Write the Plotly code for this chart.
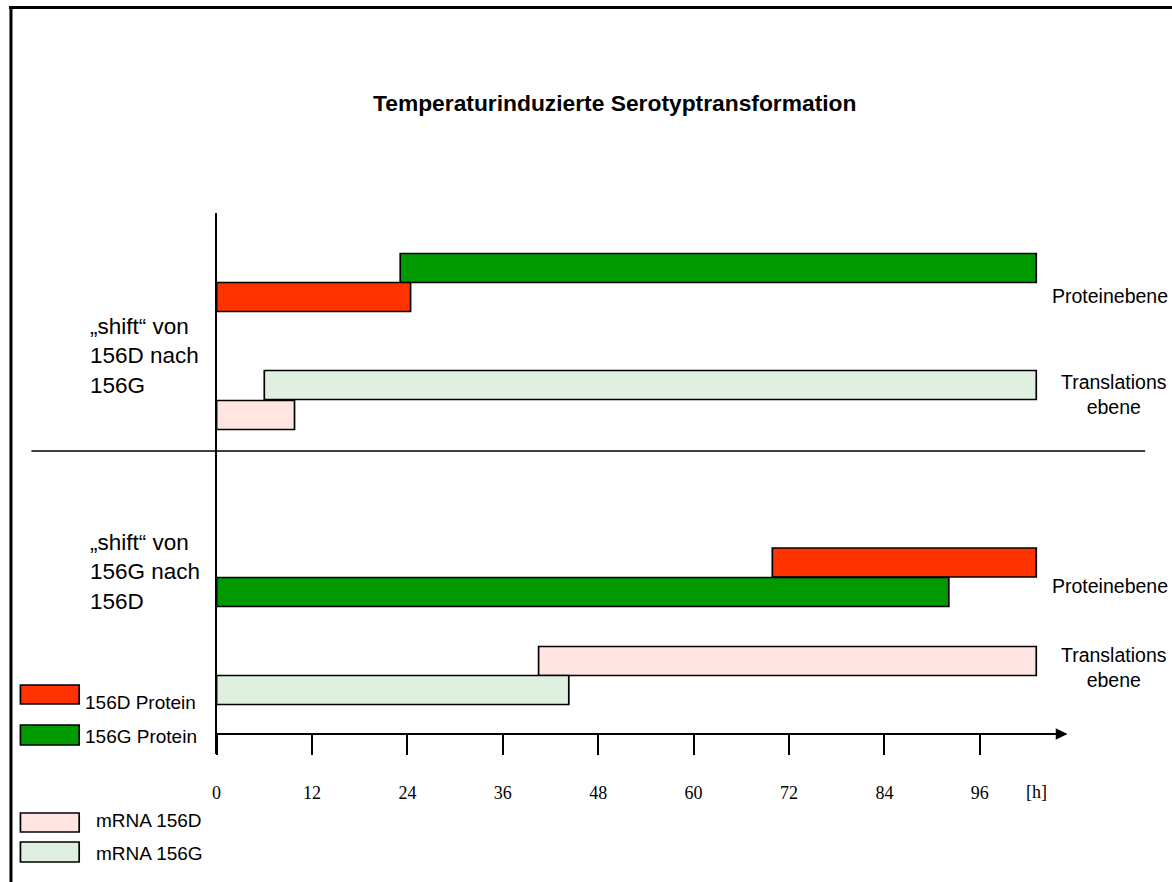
import plotly.graph_objects as go

# ---------------- data ----------------
series_names = ["156D Protein", "156G Protein", "mRNA 156D", "mRNA 156G"]
series_colors = ["#FF3300", "#009900", "#FFE4E1", "#E0F0E0"]

# bars (hours) – upper panel: shift 156D -> 156G, lower panel: shift 156G -> 156D
bar_series = ["156G Protein", "156D Protein", "mRNA 156G", "mRNA 156D",
              "156D Protein", "156G Protein", "mRNA 156D", "mRNA 156G"]
bar_start = [23.1, 0.0, 6.0, 0.0, 69.9, 0.0, 40.5, 0.0]
bar_end = [103.1, 24.4, 103.1, 9.8, 103.1, 92.1, 103.1, 44.3]

tick_values = [0, 12, 24, 36, 48, 60, 72, 84, 96]
tick_labels = ["0", "12", "24", "36", "48", "60", "72", "84", "96"]
unit_label = "[h]"
unit_pos = 103.1

title_text = "Temperaturinduzierte Serotyptransformation"
panel_labels = ["„shift“ von<br>156D nach<br>156G", "„shift“ von<br>156G nach<br>156D"]
level_labels = ["Proteinebene", "Translations<br>ebene", "Proteinebene", "Translations<br>ebene"]

# ---------------- layout constants ----------------
W, H = 1172, 882
LANE_Y = [268, 297, 385, 415, 562.5, 592, 661, 690]   # lane centres (vertical axis units)
BAR_W = 29
X0, X1 = 212.5, 1066
PX_PER_H = (979 - X0) / 96
Y_TOP, Y_BOT = 213, 754
AXIS_Y = 734


def px(x):
    return x / W


def py(y):
    return 1 - y / H


color_of = dict(zip(series_names, series_colors))

fig = go.Figure()
for s, a, b, yl in zip(bar_series, bar_start, bar_end, LANE_Y):
    fig.add_trace(go.Bar(
        orientation="h", y=[yl], x=[b - a], base=[a], width=BAR_W,
        marker=dict(color=color_of[s], line=dict(color="black", width=1.7)),
        name=s, showlegend=False, hoverinfo="skip",
    ))

fig.update_layout(
    width=W, height=H,
    margin=dict(l=0, r=0, t=0, b=0),
    paper_bgcolor="white", plot_bgcolor="white",
    barmode="overlay",
    font=dict(family="Liberation Sans, Arial, sans-serif", color="black"),
    xaxis=dict(
        domain=[px(X0), px(X1)],
        range=[0, (X1 - X0) / PX_PER_H],
        anchor="free", position=py(AXIS_Y),
        showgrid=False, zeroline=False,
        showline=True, linecolor="black", linewidth=1.8,
        ticks="outside", ticklen=20, tickwidth=1.8, tickcolor="black",
        tickvals=tick_values, ticktext=tick_labels,
        tickfont=dict(family="Liberation Serif, Times New Roman, serif", size=18),
        ticklabelstandoff=22,
    ),
    yaxis=dict(
        domain=[py(Y_BOT), py(Y_TOP)],
        range=[Y_BOT, Y_TOP],
        showgrid=False, zeroline=False,
        showline=True, linecolor="black", linewidth=1.8,
        showticklabels=False, ticks="",
    ),
)

shapes = []
# outer frame (top and left edges visible)
shapes.append(dict(type="line", xref="paper", yref="paper", x0=px(4), x1=px(1172), y0=py(7.5), y1=py(7.5),
                   line=dict(color="black", width=3)))
shapes.append(dict(type="line", xref="paper", yref="paper", x0=px(6), x1=px(6), y0=py(6), y1=py(882),
                   line=dict(color="black", width=3)))
# separator
shapes.append(dict(type="line", xref="paper", yref="paper", x0=px(26.5), x1=px(1145), y0=py(451), y1=py(451),
                   line=dict(color="black", width=1.5)))
# legend swatches
legend_boxes = [(685, 704), (725, 745), (813, 832), (842, 862)]
for (y0, y1), c in zip(legend_boxes, series_colors):
    shapes.append(dict(type="rect", xref="paper", yref="paper", x0=px(15.5), x1=px(74.5), y0=py(y1), y1=py(y0),
                       fillcolor=c, line=dict(color="black", width=1.7)))
fig.update_layout(shapes=shapes)

ann = []
ann.append(dict(text="<b>" + title_text + "</b>", x=px(612), y=py(103), xref="paper", yref="paper",
                showarrow=False, xanchor="center", yanchor="middle", font=dict(size=22.8)))
for t, yc in zip(panel_labels, [356, 572]):
    ann.append(dict(text=t, x=px(83), y=py(yc), xref="paper", yref="paper", showarrow=False,
                    xanchor="left", yanchor="middle", align="left", font=dict(size=22.5)))
for t, (xc, yc) in zip(level_labels, [(1110, 296), (1114, 394), (1110, 586), (1114, 667)]):
    ann.append(dict(text=t, x=px(xc), y=py(yc), xref="paper", yref="paper", showarrow=False,
                    xanchor="center", yanchor="middle", align="center", font=dict(size=19.5)))
legend_text_pos = [(78, 702), (78, 736), (89, 820), (89, 853)]
for s, (xl, yc) in zip(series_names, legend_text_pos):
    ann.append(dict(text=s, x=px(xl), y=py(yc), xref="paper", yref="paper", showarrow=False,
                    xanchor="left", yanchor="middle", font=dict(size=19)))
# unit label
ann.append(dict(text=unit_label, x=unit_pos, y=py(792), xref="x", yref="paper", showarrow=False,
                xanchor="center", yanchor="middle",
                font=dict(family="Liberation Serif, Times New Roman, serif", size=18)))
# arrow head of time axis
ann.append(dict(text="", x=px(1067), y=py(AXIS_Y), xref="paper", yref="paper",
                ax=-30, ay=0, axref="pixel", ayref="pixel", showarrow=True,
                arrowhead=2, arrowsize=1.3, arrowwidth=1.8, arrowcolor="black"))
fig.update_layout(annotations=ann)

fig.write_html(
    "out.html",
    config={"displayModeBar": False},
    post_script="document.body.style.margin='0px';document.body.style.overflow='hidden';",
)
